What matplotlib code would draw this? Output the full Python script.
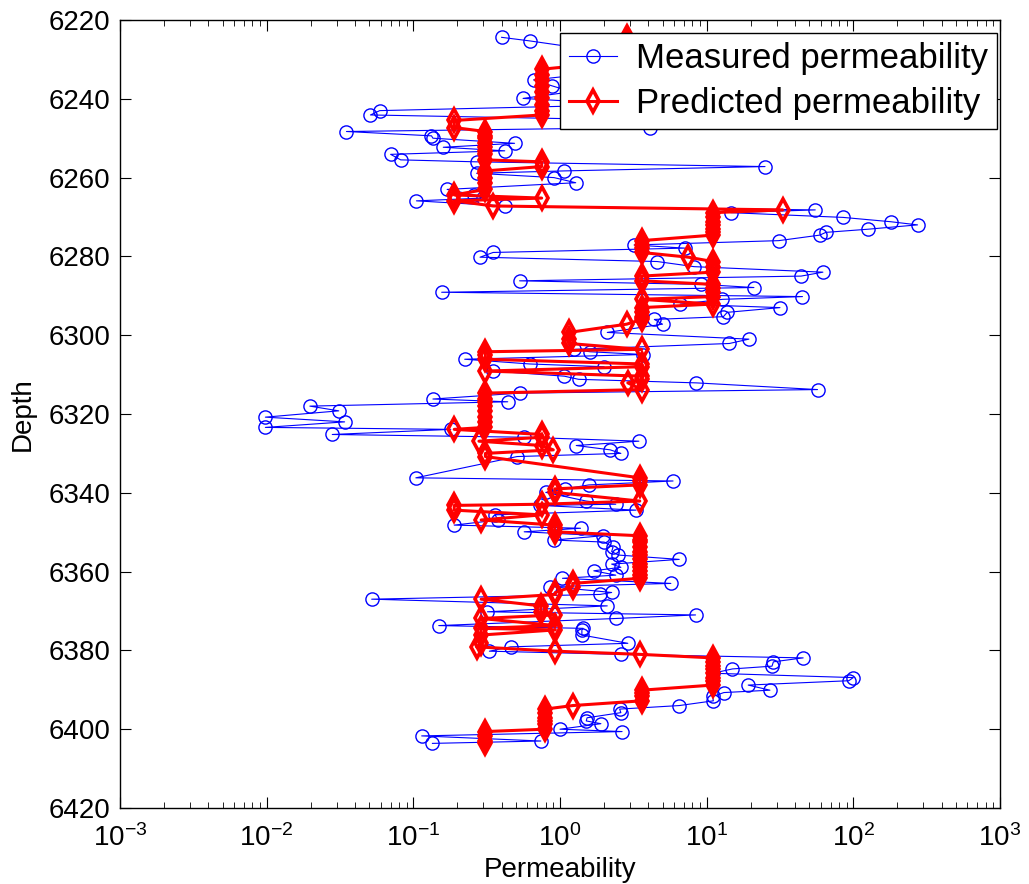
import matplotlib
matplotlib.use('Agg')
import matplotlib.pyplot as plt
import numpy as np

plt.rcParams['font.family'] = ['Liberation Sans', 'DejaVu Sans']

##############################
#            DATA            #
##############################
depth = [6224.4, 6225.3, 6227.5, 6230.0, 6232.5, 6234.0, 6235.2, 6236.7, 6238.2, 6239.9,
         6241.5, 6243.0, 6244.1, 6245.5, 6247.3, 6248.3, 6249.4, 6250.0, 6251.3, 6252.3,
         6253.2, 6254.1, 6255.5, 6256.0, 6257.2, 6258.3, 6258.9, 6260.0, 6261.3, 6263.0,
         6264.4, 6265.2, 6265.9, 6267.2, 6268.2, 6268.9, 6270.1, 6271.2, 6272.0, 6273.1,
         6273.9, 6274.6, 6276.0, 6277.1, 6277.9, 6279.0, 6280.2, 6281.3, 6282.6, 6284.0,
         6285.0, 6286.2, 6287.1, 6287.9, 6289.1, 6290.2, 6290.9, 6292.1, 6293.0, 6294.2,
         6295.3, 6296.0, 6297.2, 6299.3, 6301.0, 6302.1, 6303.6, 6304.2, 6304.9, 6306.1,
         6307.3, 6308.0, 6309.1, 6310.4, 6311.2, 6312.1, 6313.8, 6314.7, 6316.2, 6316.9,
         6318.0, 6319.2, 6320.8, 6322.0, 6323.4, 6323.9, 6325.2, 6325.9, 6326.9, 6328.0,
         6329.1, 6330.0, 6330.8, 6336.2, 6337.0, 6338.0, 6339.0, 6339.9, 6342.1, 6342.9,
         6343.2, 6344.4, 6345.6, 6346.9, 6348.2, 6349.0, 6349.9, 6350.9, 6352.0, 6352.5,
         6353.8, 6354.9, 6355.8, 6356.9, 6358.1, 6358.9, 6359.8, 6360.9, 6361.7, 6363.0,
         6363.8, 6365.3, 6365.8, 6367.0, 6368.7, 6370.2, 6371.0, 6371.9, 6373.7, 6374.4,
         6374.8, 6376.1, 6378.2, 6379.1, 6380.2, 6381.0, 6381.9, 6382.9, 6384.0, 6384.7,
         6385.8, 6386.9, 6387.7, 6388.8, 6390.1, 6390.7, 6391.7, 6392.8, 6394.0, 6394.9,
         6395.8, 6397.1, 6397.9, 6398.6, 6400.0, 6400.6, 6401.7, 6403.0, 6403.6]

measured = [0.40, 0.62, 1.6, 3.0, 2.2, 1.3, 0.66, 0.88, 1.2, 0.56,
            3.0, 0.059, 0.051, 5.0, 4.1, 0.035, 0.133, 0.136, 0.49, 0.16,
            0.42, 0.070, 0.082, 0.27, 25, 1.07, 0.27, 0.91, 1.28, 0.17,
            0.26, 0.30, 0.105, 0.42, 55, 14.6, 85, 180, 274, 126,
            65, 59, 31, 3.2, 7.1, 0.35, 0.285, 4.6, 8.2, 62,
            44, 0.53, 9.2, 21, 0.156, 45, 12.8, 6.6, 31.6, 13.8,
            13, 4.4, 5.0, 2.1, 19.4, 14.3, 1.24, 1.6, 3.7, 0.224,
            0.62, 2.0, 0.35, 1.07, 1.34, 8.5, 57, 0.53, 0.136, 0.44,
            0.0197, 0.031, 0.0098, 0.034, 0.0098, 0.18, 0.028, 0.57, 3.45, 1.29,
            2.2, 2.6, 0.51, 0.104, 5.9, 1.57, 1.09, 0.80, 1.51, 2.4,
            0.73, 3.3, 0.36, 0.38, 0.19, 1.38, 0.57, 1.95, 0.91, 2.0,
            2.3, 2.25, 2.5, 6.5, 2.25, 2.6, 1.7, 2.4, 1.04, 5.7,
            0.86, 2.25, 1.87, 0.052, 2.1, 0.32, 8.4, 2.4, 0.149, 1.44,
            1.41, 1.41, 2.9, 0.46, 0.33, 2.6, 45.5, 28.5, 27.9, 15,
            11, 100, 93, 19.2, 27, 13.1, 11, 11.1, 6.5, 2.55,
            2.6, 1.53, 1.51, 1.9, 1.0, 2.65, 0.114, 0.74, 0.135]

predicted = [2.85, 2.85, 3.6, 3.6, 0.75, 0.75, 0.75, 0.75, 0.75, 0.75,
             0.75, 0.75, 0.75, 0.19, 0.19, 0.31, 0.31, 0.31, 0.31, 0.31,
             0.31, 0.31, 0.31, 0.75, 0.75, 0.31, 0.31, 0.31, 0.31, 0.31,
             0.19, 0.75, 0.19, 0.35, 33, 11, 11, 11, 11, 11,
             11, 11, 3.6, 3.6, 3.6, 3.6, 7.5, 11, 11, 11,
             3.6, 3.6, 11, 11, 11, 11, 3.6, 11, 3.6, 3.6,
             3.6, 3.6, 2.85, 1.15, 1.15, 1.15, 3.6, 0.31, 0.31, 0.31,
             3.6, 3.6, 0.31, 3.6, 3.6, 2.9, 3.6, 0.31, 0.31, 0.31,
             0.31, 0.31, 0.31, 0.31, 0.31, 0.19, 0.75, 0.75, 0.28, 0.75,
             0.9, 0.31, 0.31, 3.5, 3.5, 3.5, 0.92, 0.92, 3.5, 0.75,
             0.19, 0.19, 0.75, 0.29, 0.92, 0.92, 0.92, 3.5, 3.5, 3.5,
             3.5, 3.5, 3.5, 3.5, 3.5, 3.5, 3.5, 3.5, 3.5, 1.22,
             1.22, 0.93, 0.93, 0.29, 0.74, 0.74, 0.93, 0.29, 0.93, 0.29,
             0.93, 0.29, 0.29, 0.27, 0.93, 3.5, 11, 11, 11, 11,
             11, 11, 11, 11, 3.6, 3.6, 3.6, 3.6, 1.22, 0.79,
             0.79, 0.79, 0.79, 0.79, 0.79, 0.31, 0.31, 0.31, 0.31]

depth_ticks = np.arange(6220, 6421, 20)
perm_ticks = [1e-3, 1e-2, 1e-1, 1e0, 1e1, 1e2, 1e3]

##############################
#            PLOT            #
##############################
fig = plt.figure(figsize=(10.29, 8.84), dpi=100)
ax = fig.add_axes([120 / 1029, 76 / 884, 880 / 1029, 788 / 884])

ax.semilogx(measured, depth, '-o', color='b', linewidth=0.8, markersize=9.5,
            markerfacecolor='none', markeredgewidth=1.0, label='Measured permeability')
ax.semilogx(predicted, depth, '-d', color='r', linewidth=2.2, markersize=11,
            markerfacecolor='none', markeredgewidth=2.6, label='Predicted permeability')

ax.set_xlim(1e-3, 1e3)
ax.set_ylim(6420, 6220)
ax.set_xticks(perm_ticks)
ax.set_yticks(depth_ticks)
ax.set_xlabel('Permeability', fontsize=20, labelpad=3)
ax.set_ylabel('Depth', fontsize=20, labelpad=9)
ax.tick_params(which='both', direction='in', top=True, right=True, labelsize=20)
ax.tick_params(which='major', length=8, width=0.8)
ax.tick_params(axis='x', which='major', pad=12)
ax.tick_params(axis='y', which='major', pad=7)
ax.tick_params(which='minor', length=4, width=0.6)
for s in ax.spines.values():
    s.set_linewidth(1.0)

leg = ax.legend(loc='upper right', bbox_to_anchor=(0.9966, 0.9835), borderaxespad=0,
                fontsize=25, fancybox=False, framealpha=1, edgecolor='black',
                handlelength=1.4, handletextpad=0.55, borderpad=0.25, labelspacing=0.35)
leg.get_frame().set_linewidth(1.0)

fig.savefig('out.png', dpi=100)
